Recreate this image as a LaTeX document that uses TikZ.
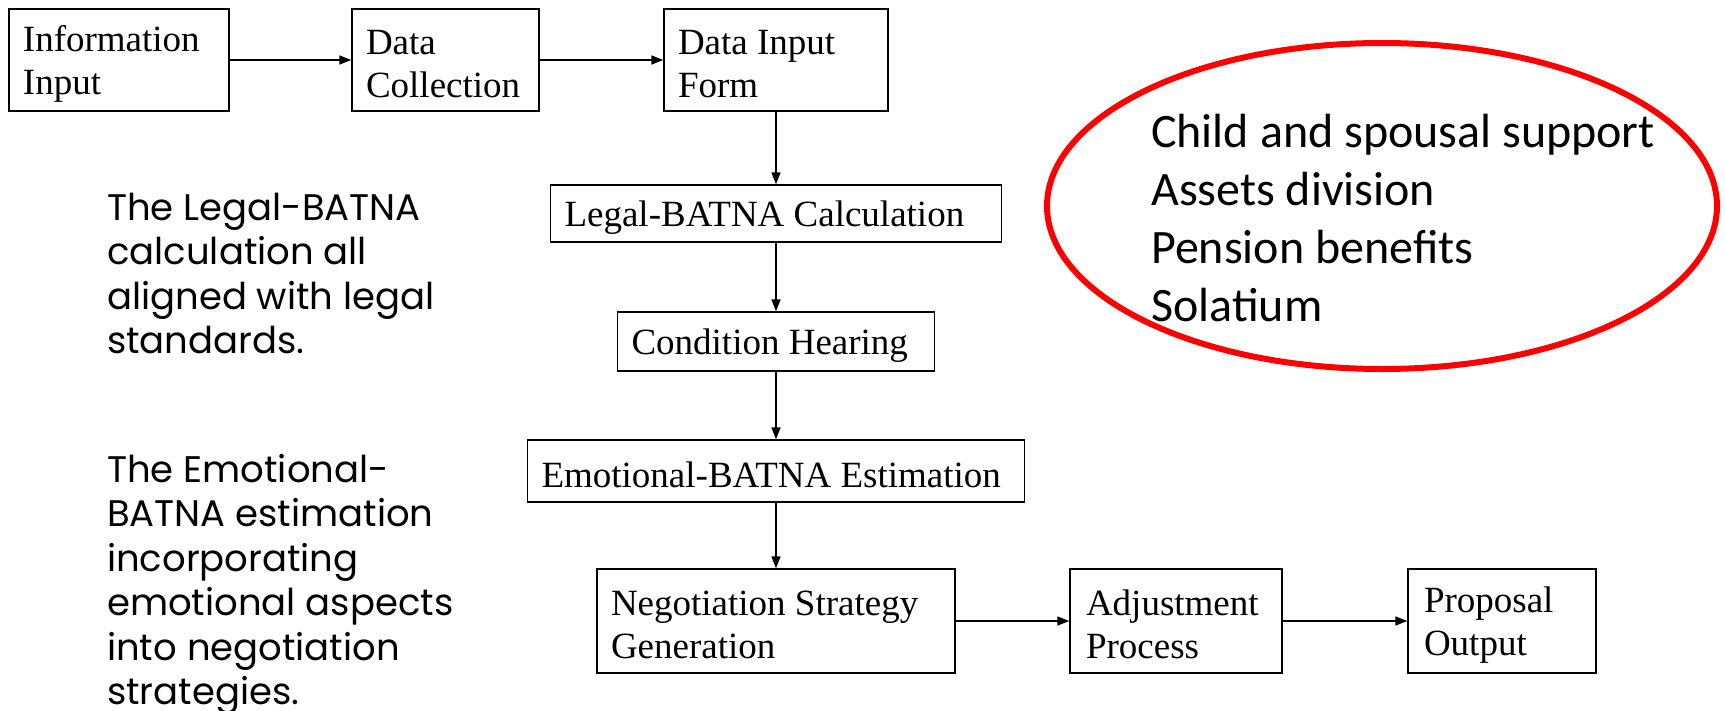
\documentclass[tikz,border=0pt]{standalone}
\usepackage{fontspec}
\setmainfont{Liberation Serif}
\newfontfamily\notefont{Poppins}
\newfontfamily\calfont{Carlito}
\usetikzlibrary{arrows.meta,shapes.geometric}
\begin{document}
\begin{tikzpicture}[x=1pt,y=-1pt,
  flowbox/.style={draw, line width=1.3pt, font=\fontsize{37}{43}\selectfont,
    align=flush left, inner xsep=14pt, inner ysep=0pt, anchor=center,
    execute at begin node={\rule{0pt}{33pt}}},
  flow/.style={line width=1.4pt, -{Triangle[length=12pt,width=9pt]}},
  note/.style={font=\notefont\fontsize{37}{44.5}\selectfont, align=flush left,
    anchor=base west, inner sep=0pt, text width=420pt},
  item/.style={font=\calfont\fontsize{48}{57}\selectfont, anchor=base west, inner sep=0pt},
  oval/.style={draw=red, line width=6pt, ellipse, inner sep=0pt}]
\useasboundingbox (0,0) rectangle (1725,710);

\node[flowbox, text width=192pt, minimum height=102pt] (info) at (119,60) {Information\\Input};
\node[flowbox, text width=159pt, minimum height=102pt] (coll) at (445.5,60) {Data\\Collection};
\node[flowbox, text width=196pt, minimum height=102pt] (form) at (776,60) {Data Input\\Form};
\node[flowbox, text width=423pt, minimum height=57pt] (legal) at (776,213.5) {Legal-BATNA Calculation};
\node[flowbox, text width=289pt, minimum height=59pt] (cond) at (776,341.5) {Condition Hearing};
\node[flowbox, text width=469pt, minimum height=62pt] (emo) at (776,471) {Emotional-BATNA Estimation};
\node[flowbox, text width=330pt, minimum height=104pt] (neg) at (776,621) {Negotiation Strategy\\Generation};
\node[flowbox, text width=180pt, minimum height=104pt, inner xsep=16pt] (adj) at (1176,621) {Adjustment\\Process};
\node[flowbox, text width=156pt, minimum height=104pt, inner xsep=16pt] (prop) at (1502,621) {Proposal\\Output};

\draw[flow] (info) -- (coll);
\draw[flow] (coll) -- (form);
\draw[flow] (form.south) -- (form.south |- legal.north);
\draw[flow] (legal.south) -- (legal.south |- cond.north);
\draw[flow] (cond.south) -- (cond.south |- emo.north);
\draw[flow] (emo.south) -- (emo.south |- neg.north);
\draw[flow] (neg) -- (adj);
\draw[flow] (adj) -- (prop);

\node[note] (legalnote) at (107,220) {The Legal-BATNA\\calculation all\\aligned with legal\\standards.};
\node[note] (emonote) at (107,482) {The Emotional-\\BATNA estimation\\incorporating\\emotional aspects\\into negotiation\\strategies.};

\node[oval, minimum width=670pt, minimum height=326pt] (ring) at (1382,206) {};
\node[item] (i1) at (1151,147) {Child and spousal support};
\node[item] (i2) at (1151,205) {Assets division};
\node[item] (i3) at (1151,263) {Pension benefits};
\node[item] (i4) at (1151,321) {Solatium};
\end{tikzpicture}
\end{document}
